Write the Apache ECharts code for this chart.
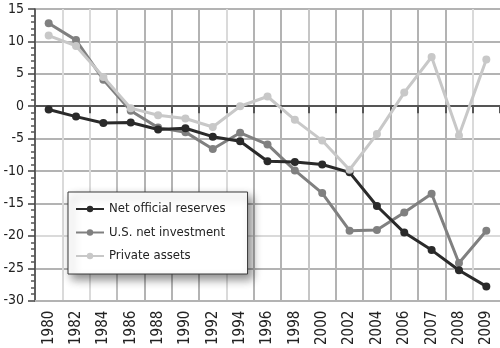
<!DOCTYPE html>
<html>
<head>
<meta charset="utf-8">
<script src="https://cdn.jsdelivr.net/npm/echarts@6/dist/echarts.min.js"></script>
<style>
  html, body { margin: 0; padding: 0; background: #ffffff; }
  #chart { width: 500px; height: 348px; }
</style>
</head>
<body>
<div id="chart"></div>
<script>
// Years on the horizontal axis (two-year steps, then yearly at the end)
const years = ['1980', '1982', '1984', '1986', '1988', '1990', '1992', '1994', '1996',
               '1998', '2000', '2002', '2004', '2006', '2007', '2008', '2009'];

// Series values
const netOfficialReserves = [-0.5, -1.6, -2.6, -2.5, -3.6, -3.4, -4.7, -5.4, -8.5,
                             -8.6, -9.0, -10.2, -15.4, -19.5, -22.2, -25.3, -27.8];
const usNetInvestment = [12.8, 10.2, 4.1, -0.7, -3.3, -4.0, -6.6, -4.1, -5.9,
                         -9.9, -13.4, -19.2, -19.1, -16.4, -13.5, -24.2, -19.2];
const privateAssets = [10.9, 9.3, 4.5, -0.3, -1.4, -1.9, -3.2, 0.0, 1.5,
                       -2.1, -5.3, -9.8, -4.3, 2.1, 7.6, -4.5, 7.2];

// Value axis range and step
const yMin = -30;
const yMax = 15;
const yStep = 5;

const FONT = "'DejaVu Sans Condensed', 'Liberation Sans', sans-serif";
const DARK = '#2a2a2a';
const MID = '#808080';
const LIGHT = '#c8c8c8';
const G1 = '#b3b3b3';   // regular grid line
const G2 = '#dadada';   // faint grid line

const chart = echarts.init(document.getElementById('chart'), null, { renderer: 'canvas' });

function lineSeries(name, data, color, z) {
  return {
    name: name,
    type: 'line',
    data: data,
    xAxisIndex: 0,
    yAxisIndex: 0,
    z: z,
    symbol: 'circle',
    symbolSize: 8,
    showSymbol: true,
    animation: false,
    lineStyle: { color: color, width: 3 },
    itemStyle: { color: color }
  };
}

chart.setOption({
  animation: false,
  backgroundColor: '#ffffff',
  grid: { left: 35, right: 0, top: 9, bottom: 45 },
  legend: {
    orient: 'vertical',
    left: 68,
    top: 192,
    padding: [10, 22, 11, 7],
    itemGap: 9.5,
    itemWidth: 28,
    itemHeight: 8,
    backgroundColor: '#ffffff',
    borderColor: '#3a3a3a',
    borderWidth: 1,
    shadowBlur: 9,
    shadowOffsetX: 4,
    shadowOffsetY: 5,
    shadowColor: 'rgba(0,0,0,0.45)',
    textStyle: { fontFamily: FONT, fontSize: 13, color: '#222', lineHeight: 14 },
    data: ['Net official reserves', 'U.S. net investment', 'Private assets']
  },
  xAxis: [
    {
      type: 'category',
      data: years,
      position: 'bottom',
      boundaryGap: true,
      axisLine: { onZero: false, show: true, lineStyle: { color: G1, width: 2 } },
      axisTick: { show: false },
      axisLabel: {
        rotate: 90,
        margin: 10,
        fontFamily: FONT,
        fontSize: 15,
        color: '#222',
        interval: 0
      },
      splitLine: {
        show: true,
        interval: 0,
        showMinLine: true,
        showMaxLine: true,
        lineStyle: {
          width: 2,
          color: [G1, G2, G2, '#bebebe', G1, G1, G1, G2, G1, G1, '#c6c6c6',
                  G1, G1, G1, G1, G1, G2, 'rgba(255,255,255,0)']
        }
      }
    },
    {
      // line at zero with boundary ticks
      type: 'category',
      data: years,
      position: 'bottom',
      boundaryGap: true,
      axisLine: { onZero: true, show: true, lineStyle: { color: '#555555', width: 2 } },
      axisTick: { show: true, interval: 0, length: 7, lineStyle: { color: '#555555', width: 2 } },
      axisLabel: { show: false },
      splitLine: { show: false }
    }
  ],
  yAxis: {
    type: 'value',
    min: yMin,
    max: yMax,
    interval: yStep,
    axisLine: { show: true, lineStyle: { color: '#444444', width: 1.5 } },
    axisTick: { show: true, length: 7, lineStyle: { color: '#444444', width: 1.5 } },
    minorTick: { show: true, splitNumber: 5, length: 4, lineStyle: { color: '#555555', width: 1.5 } },
    axisLabel: { margin: 11, fontFamily: FONT, fontSize: 14, color: '#222' },
    splitLine: {
      show: true,
      lineStyle: {
        width: 2,
        color: [G1, G1, G2, G1, G1, G1, '#555555', G1, G1, G1]
      }
    }
  },
  series: [
    lineSeries('Net official reserves', netOfficialReserves, DARK, 3),
    lineSeries('U.S. net investment', usNetInvestment, MID, 2),
    lineSeries('Private assets', privateAssets, LIGHT, 4)
  ]
});
</script>
</body>
</html>
